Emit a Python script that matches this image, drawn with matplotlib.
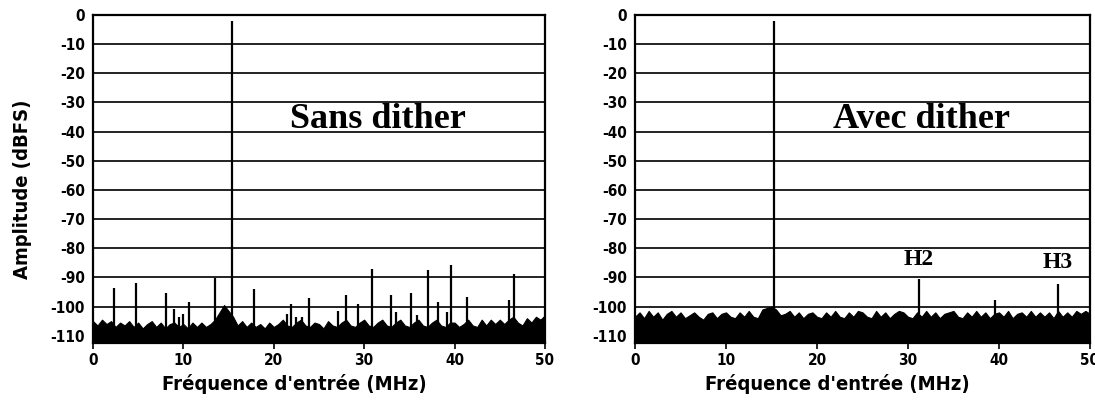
import matplotlib
matplotlib.use("Agg")
import matplotlib.pyplot as plt
import numpy as np

# noise floor tops, one value per 0.5 MHz from 0 to 50 MHz
freq_grid = np.arange(0, 50.5, 0.5)
noise_sans = [-105, -106.5, -104.5, -106, -105, -107, -105.5, -106.5, -105, -107,
              -105.5, -107.5, -106, -105, -107, -105.5, -107.5, -106, -105.5, -107,
              -106, -107.5, -105.5, -107, -105.5, -107, -106, -104.5, -102, -99.5,
              -101.5, -103.5, -106.5, -105, -107, -105.5, -107, -106, -107.5, -105.5,
              -107, -106, -104.5, -106.5, -107, -105.5, -104.5, -106.5, -107, -105.5,
              -106, -107.5, -105, -106.5, -107, -105.5, -104.5, -106.5, -107, -105.5,
              -104.5, -106.5, -107, -105.5, -104.5, -106.5, -107, -105.5, -104.5, -106.5,
              -107, -105.5, -104.5, -106.5, -107, -105.5, -104.5, -106.5, -107, -105.5,
              -105.5, -107, -106, -104.5, -106.5, -107, -104.5, -106.5, -104.5, -106,
              -104.5, -106, -104.5, -103.5, -105.5, -106.5, -104, -105.5, -103.5, -104.5, -103]
noise_avec = [-103.5, -102, -104, -101.5, -103.5, -102, -104.5, -102.5, -101.5, -103.5,
              -102, -104, -103, -102, -103.5, -104.5, -102.5, -102, -104, -102.5,
              -102, -103.5, -104, -102, -103.5, -101.5, -103.5, -104, -101, -100.5,
              -100, -101, -103, -102.5, -101.5, -103.5, -102, -104, -102.5, -102,
              -103.5, -104, -102, -103.5, -101.5, -103.5, -104, -102, -103.5, -101.5,
              -102, -103.5, -104, -101.5, -103.5, -102, -104, -102.5, -101.5, -102,
              -103.5, -104, -102, -103.5, -101.5, -103.5, -102, -104, -102.5, -102,
              -101.5, -103.5, -104, -102, -103.5, -101.5, -103.5, -102, -104, -102.5,
              -102, -103.5, -101.5, -104, -102.5, -102, -103.5, -101.5, -103.5, -102,
              -103.5, -102, -104, -101.5, -103.5, -102, -103.5, -101.5, -102.5, -101.5, -102.5]

# spurs (MHz, dBFS)
spur_f_sans = [2.3, 4.8, 8.1, 9.0, 9.5, 10.0, 10.6, 13.5, 15.4, 17.8, 21.5, 21.9,
               22.5, 23.1, 23.9, 27.1, 28.0, 29.3, 30.9, 33.0, 33.5, 35.2, 35.8,
               37.1, 38.2, 39.2, 39.6, 41.4, 46.0, 46.6]
spur_a_sans = [-93.8, -92, -95.5, -101, -103.5, -102.4, -98.3, -90.3, -2, -94,
               -102.5, -99.3, -103.5, -103.5, -97.2, -101.7, -96, -99, -87, -96.2,
               -102, -95.2, -103, -87.6, -98.3, -102, -85.9, -96.6, -97.6, -89]
spur_f_avec = [15.3, 31.2, 39.6, 46.5]
spur_a_avec = [-2, -90.5, -97.6, -92.4]

titles = ["Sans dither", "Avec dither"]
yticks = list(range(0, -111, -10))
xticks = [0, 10, 20, 30, 40, 50]

plt.rcParams['font.family'] = ['DejaVu Sans']
plt.rcParams['font.stretch'] = 'condensed'
plt.rcParams['axes.unicode_minus'] = False
fig = plt.figure(figsize=(10.95, 4.09), dpi=100)
ax1 = fig.add_axes([0.0849, 0.1614, 0.4128, 0.802])
ax2 = fig.add_axes([0.5799, 0.1614, 0.4155, 0.802])

bottom = -112.5
for ax, noise, sf, sa, title in [(ax1, noise_sans, spur_f_sans, spur_a_sans, titles[0]),
                                 (ax2, noise_avec, spur_f_avec, spur_a_avec, titles[1])]:
    ax.fill_between(freq_grid, bottom, noise, color='black', lw=0.8)
    ax.vlines(sf, bottom, sa, color='black', lw=1.6)
    ax.set_xlim(0, 50)
    ax.set_ylim(bottom, 0)
    ax.set_yticks(yticks)
    ax.set_xticks(xticks)
    ax.yaxis.grid(True, color='#222222', lw=1.4)
    ax.set_axisbelow(True)
    for s in ax.spines.values():
        s.set_linewidth(1.6)
    ax.tick_params(axis='y', length=0, labelsize=11, pad=6)
    ax.tick_params(axis='x', length=4, width=1.2, labelsize=11, pad=3)
    for lab in ax.get_xticklabels() + ax.get_yticklabels():
        lab.set_fontweight('bold')
    ax.set_xlabel("Fréquence d'entrée (MHz)", fontsize=14.5, fontweight='bold')
    ax.xaxis.set_label_coords(0.445, -0.095)
    ax.text(0.63, 0.68, title, transform=ax.transAxes, ha='center', va='center',
            fontsize=26, fontweight='bold', family='Liberation Serif')

ax1.set_ylabel("Amplitude (dBFS)", fontsize=14.5, fontweight='bold')
ax1.yaxis.set_label_coords(-0.135, 0.47)
ax2.text(31.2, -87.5, "H2", ha='center', va='bottom', fontsize=17,
         fontweight='bold', family='Liberation Serif')
ax2.text(46.4, -88.5, "H3", ha='center', va='bottom', fontsize=17,
         fontweight='bold', family='Liberation Serif')

fig.savefig("out.png", dpi=100)
